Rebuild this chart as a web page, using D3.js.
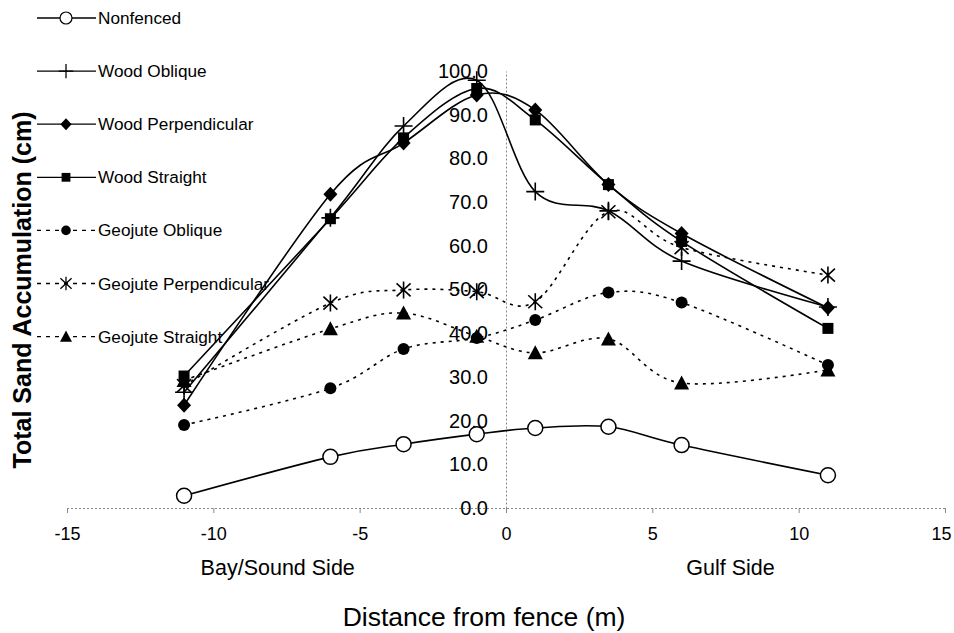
<!DOCTYPE html>
<html>
<head>
<meta charset="utf-8">
<script src="https://cdn.jsdelivr.net/npm/d3@7"></script>
<style>
  html, body { margin: 0; padding: 0; background: #fff; }
  svg { display: block; font-family: "Liberation Sans", Arial, sans-serif; }
</style>
</head>
<body>
<svg id="chart" width="954" height="633"></svg>
<script>
// Distance from the fence (m), negative = bay/sound side, positive = gulf side
const distances = [-11, -6, -3.5, -1, 1, 3.5, 6, 11];

// Total sand accumulation (cm) for each treatment
const nonfenced            = [2.8, 11.7, 14.6, 16.9, 18.3, 18.6, 14.4, 7.5];
const woodOblique          = [26.5, 66.4, 87.4, 97.9, 72.4, 68.0, 56.5, 46.0];
const woodPerpendicular    = [23.5, 71.8, 83.5, 94.5, 91.1, 74.0, 62.8, 45.8];
const woodStraight         = [30.2, 66.2, 84.7, 96.0, 88.8, 74.0, 61.0, 41.1];
const geojuteOblique       = [19.0, 27.4, 36.4, 38.9, 43.0, 49.3, 47.0, 32.7];
const geojutePerpendicular = [28.0, 46.9, 49.9, 49.5, 47.2, 67.8, 59.6, 53.3];
const geojuteStraight      = [29.2, 41.0, 44.6, 39.3, 35.5, 38.7, 28.6, 31.6];

const seriesNames = ["Nonfenced", "Wood Oblique", "Wood Perpendicular", "Wood Straight",
                     "Geojute Oblique", "Geojute Perpendicular", "Geojute Straight"];
const seriesValues = [nonfenced, woodOblique, woodPerpendicular, woodStraight,
                      geojuteOblique, geojutePerpendicular, geojuteStraight];
const seriesMarkers = ["openCircle", "plus", "diamond", "square", "dot", "asterisk", "triangle"];
const seriesDotted = [false, false, false, false, true, true, true];

const xTicks = [-15, -10, -5, 0, 5, 10, 15];
const yTicks = [0, 10, 20, 30, 40, 50, 60, 70, 80, 90, 100];
const sideLabels = [{ text: "Bay/Sound Side", at: -7.8 }, { text: "Gulf Side", at: 7.67 }];

const svg = d3.select("#chart");

const x = d3.scaleLinear().domain([-15, 15]).range([67, 945]);
const y = d3.scaleLinear().domain([0, 100]).range([508, 71]);

// Axes cross at the origin (x = 0, y = 0)
const axisColor = "#8a8a8a";
const xAxisG = svg.append("g").attr("transform", `translate(0,${y(0)})`)
  .call(d3.axisBottom(x).tickValues(xTicks).tickSize(5).tickPadding(14).tickFormat(d3.format("d")));
xAxisG.select(".domain").attr("stroke", axisColor).attr("stroke-width", 1).attr("stroke-dasharray", "2,2");
xAxisG.selectAll(".tick line").attr("stroke", axisColor);
xAxisG.selectAll(".tick text").attr("fill", "#000").attr("font-size", 18)
  .attr("font-family", "'Liberation Sans', Arial, sans-serif")
  .attr("dx", d => d === 15 ? -4 : 0)
  .text(d => d < 0 ? "-" + Math.abs(d) : d);

const yAxisG = svg.append("g").attr("transform", `translate(${x(0)},0)`)
  .call(d3.axisLeft(y).tickValues(yTicks).tickSize(0).tickPadding(18).tickFormat(d3.format(".1f")));
yAxisG.select(".domain").attr("stroke", axisColor).attr("stroke-width", 1).attr("stroke-dasharray", "2,2");
yAxisG.selectAll(".tick text").attr("fill", "#000").attr("font-size", 20)
  .attr("font-family", "'Liberation Sans', Arial, sans-serif");

// Smoothed series lines
const line = d3.line()
  .x((d, i) => x(distances[i]))
  .y(d => y(d))
  .curve(d3.curveCardinal.tension(0));

const plot = svg.append("g");
seriesValues.forEach((vals, s) => {
  plot.append("path")
    .attr("d", line(vals))
    .attr("fill", "none")
    .attr("stroke", "#000")
    .attr("stroke-width", 1.6)
    .attr("stroke-dasharray", seriesDotted[s] ? "3,5" : null);
});

// Marker drawing
function drawMarker(g, kind, cx, cy, k) {
  const m = g.append("g").attr("transform", `translate(${cx},${cy}) scale(${k})`);
  switch (kind) {
    case "openCircle":
      m.append("circle").attr("r", 7.5).attr("fill", "#fff").attr("stroke", "#000").attr("stroke-width", 1.5);
      break;
    case "plus":
      m.append("path").attr("d", "M-9,0H9M0,-9V9").attr("stroke", "#000").attr("stroke-width", 1.6);
      break;
    case "diamond":
      m.append("path").attr("d", "M0,-7.5L7,0L0,7.5L-7,0Z").attr("fill", "#000");
      break;
    case "square":
      m.append("rect").attr("x", -5.5).attr("y", -5.5).attr("width", 11).attr("height", 11).attr("fill", "#000");
      break;
    case "dot":
      m.append("circle").attr("r", 6).attr("fill", "#000");
      break;
    case "asterisk":
      m.append("path").attr("d", "M0,-8.5V8.5M-7,-6.5L7,6.5M-7,6.5L7,-6.5").attr("stroke", "#000").attr("stroke-width", 1.6);
      break;
    case "triangle":
      m.append("path").attr("d", "M0,-7.5L7.5,6.5L-7.5,6.5Z").attr("fill", "#000");
      break;
  }
}

seriesValues.forEach((vals, s) => {
  vals.forEach((v, i) => drawMarker(plot, seriesMarkers[s], x(distances[i]), y(v), 1));
});

// Legend, stacked down the upper left
const legend = svg.append("g");
seriesNames.forEach((name, s) => {
  const ly = 18 + s * 53.1;
  legend.append("line")
    .attr("x1", 37).attr("x2", 96).attr("y1", ly).attr("y2", ly)
    .attr("stroke", "#000").attr("stroke-width", 1.3)
    .attr("stroke-dasharray", seriesDotted[s] ? "4,5" : null);
  drawMarker(legend, seriesMarkers[s], 66, ly, 0.8);
  legend.append("text")
    .attr("x", 98).attr("y", ly).attr("dy", "0.35em")
    .attr("font-size", 17.2).text(name);
});

// Axis titles and side labels
svg.append("text")
  .attr("transform", `translate(31,${290}) rotate(-90)`)
  .attr("text-anchor", "middle")
  .attr("font-size", 25).attr("font-weight", "bold")
  .text("Total Sand Accumulation (cm)");

sideLabels.forEach(l => {
  svg.append("text")
    .attr("x", x(l.at)).attr("y", 575)
    .attr("text-anchor", "middle").attr("font-size", 21.5)
    .text(l.text);
});

svg.append("text")
  .attr("x", 484).attr("y", 626)
  .attr("text-anchor", "middle").attr("font-size", 26.5)
  .text("Distance from fence (m)");
</script>
</body>
</html>
